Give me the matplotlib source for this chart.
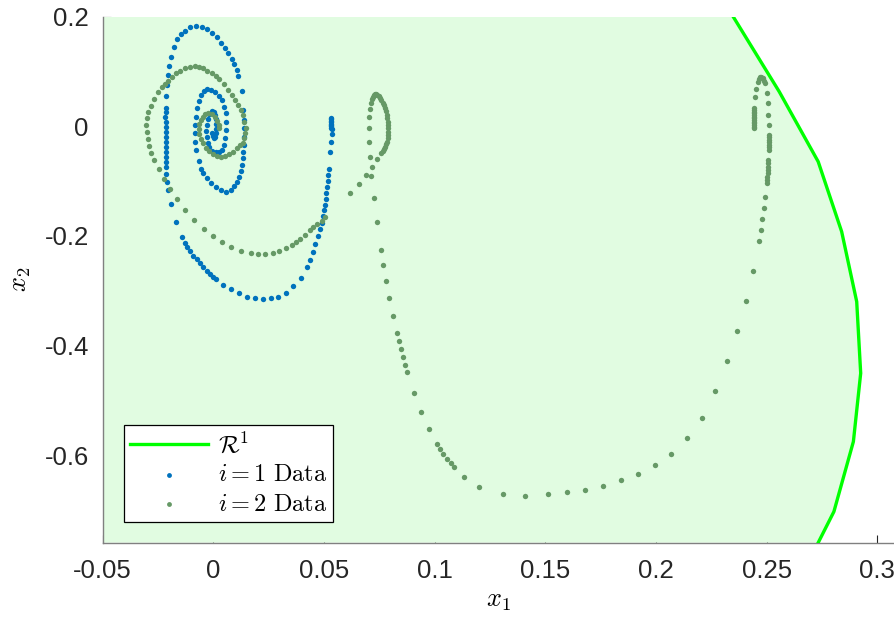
import matplotlib
matplotlib.use("Agg")
import matplotlib.pyplot as plt
import numpy as np

plt.rcParams['font.family'] = ['Liberation Sans', 'DejaVu Sans']
plt.rcParams['mathtext.fontset'] = 'cm'

# ---------------- data ----------------
# boundary of region R^1
r1_x = [0.2349, 0.2557, 0.2733, 0.2839, 0.2907, 0.2925, 0.2892, 0.2804, 0.2733]
r1_y = [0.2000, 0.0631, -0.0646, -0.1923, -0.3201, -0.4507, -0.5755, -0.7033, -0.7600]

# i = 1 data (blue)
blue_x = [0.0530, 0.0531, 0.0531, 0.0532, 0.0532, 0.0532, 0.0532, 0.0533, 0.0534,
          0.0535, 0.0532, 0.0529, 0.0523, 0.0520, 0.0517, 0.0514, 0.0511, 0.0508, 0.0503,
          0.0499, 0.0494, 0.0490, 0.0482, 0.0472, 0.0461, 0.0449, 0.0435, 0.0422, 0.0396,
          0.0361, 0.0328, 0.0294, 0.0259, 0.0226, 0.0188, 0.0151, 0.0116, 0.0080, 0.0045,
          0.0011, -0.0003, -0.0015, -0.0030, -0.0045, -0.0060, -0.0075, -0.0090, -0.0105,
          -0.0117, -0.0128, -0.0143, -0.0169, -0.0191, -0.0205, -0.0211, -0.0213,
          -0.0214, -0.0214, -0.0215, -0.0215, -0.0215, -0.0216, -0.0216, -0.0216, -0.0216,
          -0.0216, -0.0217, -0.0216, -0.0216,
          -0.0214, -0.0211, -0.0206, -0.0199, -0.0191, -0.0178, -0.0163, -0.0148, -0.0128,
          -0.0105, -0.0080, -0.0053, -0.0030, -0.0007, 0.0015, 0.0035, 0.0053, 0.0068,
          0.0083, 0.0095, 0.0105, 0.0113, 0.0128, 0.0136, 0.0139, 0.0140, 0.0139, 0.0139,
          0.0136, 0.0133, 0.0130, 0.0125, 0.0118, 0.0109, 0.0095, 0.0080, 0.0057, 0.0033,
          0.0012, -0.0011, -0.0030, -0.0045, -0.0057, -0.0066,
          -0.0078, -0.0081, -0.0083, -0.0081, -0.0078, -0.0074, -0.0066, -0.0056, -0.0042,
          -0.0027, -0.0011, 0.0008, 0.0026, 0.0041, 0.0050, 0.0056, 0.0057, 0.0056, 0.0053,
          0.0048, 0.0039,
          0.0025, 0.0010, -0.0005, -0.0018, -0.0025, -0.0030, -0.0031, -0.0030, -0.0026,
          -0.0018, -0.0008, 0.0002, 0.0009, 0.0013, 0.0014, 0.0013, 0.0011, 0.0007, 0.0002,
          -0.0003, -0.0005]
blue_y = [0.0150, 0.0125, 0.0100, 0.0075, 0.0050, 0.0025, 0.0000, -0.0025, -0.0050,
          -0.0140, -0.0292, -0.0474, -0.0772, -0.0882, -0.0991, -0.1100, -0.1210, -0.1320, -0.1430,
          -0.1530, -0.1640, -0.1757, -0.1880, -0.1994, -0.2153, -0.2298, -0.2438, -0.2560, -0.2767,
          -0.2924, -0.3034, -0.3107, -0.3143, -0.3155, -0.3137, -0.3107, -0.3052, -0.2973, -0.2900,
          -0.2791, -0.2742, -0.2699, -0.2639, -0.2572, -0.2499, -0.2426, -0.2359, -0.2280,
          -0.2207, -0.2134, -0.2012, -0.1751, -0.1417, -0.1167, -0.1009, -0.0870,
          -0.0736, -0.0644, -0.0553, -0.0462, -0.0371, -0.0280, -0.0188, -0.0097, -0.0006,
          0.0085, 0.0176, 0.0268, 0.0328,
          0.0553, 0.0754, 0.0936, 0.1101, 0.1259, 0.1441, 0.1587, 0.1684, 0.1745,
          0.1806, 0.1836, 0.1818, 0.1769, 0.1709, 0.1623, 0.1526, 0.1435, 0.1332,
          0.1228, 0.1131, 0.1028, 0.0924, 0.0645, 0.0298, 0.0116, -0.0036, -0.0188, -0.0340,
          -0.0462, -0.0584, -0.0705, -0.0809, -0.0918, -0.1009, -0.1088, -0.1161, -0.1191, -0.1161,
          -0.1100, -0.1027, -0.0936, -0.0857, -0.0784, -0.0632,
          -0.0432, -0.0280, -0.0128, 0.0024, 0.0176, 0.0328, 0.0468, 0.0572, 0.0645,
          0.0675, 0.0663, 0.0620, 0.0553, 0.0480, 0.0359, 0.0237, 0.0085, -0.0067, -0.0219,
          -0.0340, -0.0432,
          -0.0470, -0.0475, -0.0445, -0.0385, -0.0300, -0.0200, -0.0090, 0.0020, 0.0130,
          0.0220, 0.0270, 0.0260, 0.0210, 0.0130, 0.0040, -0.0050, -0.0130, -0.0190, -0.0210,
          -0.0180, -0.0120]

# i = 2 data (green)
green_x = [0.2444, 0.2444, 0.2444, 0.2444, 0.2444, 0.2444, 0.2444, 0.2444, 0.2444, 0.2444,
           0.2444, 0.2445, 0.2445,
           0.2447, 0.2450, 0.2459, 0.2464, 0.2470, 0.2476, 0.2482, 0.2487, 0.2492, 0.2500,
           0.2504, 0.2507, 0.2509,
           0.2509, 0.2509, 0.2509, 0.2509, 0.2509, 0.2509, 0.2509,
           0.2507, 0.2507, 0.2506, 0.2505, 0.2504, 0.2503, 0.2502, 0.2500,
           0.2492, 0.2486, 0.2480, 0.2473, 0.2465, 0.2437,
           0.2405, 0.2365, 0.2320, 0.2268, 0.2207, 0.2140, 0.2069, 0.1997, 0.1920, 0.1841, 0.1759,
           0.1680, 0.1600, 0.1510, 0.1410, 0.1310, 0.1202,
           0.1134, 0.1089, 0.1072, 0.1056, 0.1039, 0.1024, 0.1009, 0.0973, 0.0937, 0.0905,
           0.0874, 0.0865, 0.0856, 0.0846, 0.0837, 0.0828, 0.0812, 0.0795, 0.0782, 0.0768,
           0.0756, 0.0738, 0.0725, 0.0714, 0.0716, 0.0708, 0.0705, 0.0704, 0.0705, 0.0708,
           0.0711, 0.0715, 0.0720, 0.0725, 0.0731, 0.0736, 0.0741, 0.0747, 0.0753, 0.0759,
           0.0765, 0.0771, 0.0776, 0.0780, 0.0783, 0.0786, 0.0788, 0.0790, 0.0791, 0.0791,
           0.0791, 0.0789, 0.0786, 0.0782, 0.0777, 0.0771, 0.0765, 0.0756, 0.0740,
           0.0690, 0.0657, 0.0618,
           0.0505, 0.0490, 0.0470, 0.0452, 0.0437, 0.0414, 0.0392, 0.0374, 0.0354, 0.0327,
           0.0298, 0.0268, 0.0235, 0.0200, 0.0169, 0.0125, 0.0081, 0.0039, -0.0001, -0.0041,
           -0.0086, -0.0127, -0.0164, -0.0196, -0.0221, -0.0247, -0.0267, -0.0282, -0.0291,
           -0.0297, -0.0301, -0.0304, -0.0301, -0.0297, -0.0283, -0.0266,
           -0.0248, -0.0232, -0.0218, -0.0203, -0.0188, -0.0169, -0.0151, -0.0128, -0.0105,
           -0.0083, -0.0063, -0.0045, -0.0027, -0.0007, 0.0012, 0.0027, 0.0050, 0.0068,
           0.0084, 0.0098, 0.0113, 0.0125, 0.0136, 0.0140, 0.0146, 0.0145, 0.0139,
           0.0133, 0.0121, 0.0105, 0.0090, 0.0072, 0.0053, 0.0033, 0.0015, -0.0003, -0.0020,
           -0.0035, -0.0048, -0.0057, -0.0063, -0.0065, -0.0063, -0.0057, -0.0048, -0.0036,
           -0.0023, -0.0007, 0.0008, 0.0018, 0.0024, 0.0024]
green_y = [-0.0036, -0.0005, 0.0025, 0.0055, 0.0085, 0.0116, 0.0146, 0.0177, 0.0207, 0.0238,
           0.0268, 0.0298, 0.0328,
           0.0529, 0.0675, 0.0815, 0.0870, 0.0906, 0.0900, 0.0876, 0.0835, 0.0784, 0.0602,
           0.0420, 0.0207, 0.0025,
           -0.0158, -0.0203, -0.0249, -0.0295, -0.0340, -0.0386, -0.0431,
           -0.0614, -0.0675, -0.0735, -0.0796, -0.0857, -0.0918, -0.0978, -0.1040,
           -0.1283, -0.1490, -0.1690, -0.1891, -0.2085, -0.2639,
           -0.3188, -0.3741, -0.4287, -0.4827, -0.5316, -0.5693, -0.5982, -0.6190, -0.6339, -0.6460, -0.6560,
           -0.6630, -0.6680, -0.6720, -0.6740, -0.6710, -0.6585,
           -0.6402, -0.6226, -0.6147, -0.6074, -0.5977, -0.5892, -0.5794, -0.5527, -0.5217, -0.4870,
           -0.4487, -0.4353, -0.4214, -0.4067, -0.3928, -0.3776, -0.3460, -0.3143, -0.2833, -0.2535,
           -0.2250, -0.1751, -0.1301, -0.0912, -0.0748, -0.0566, -0.0280, -0.0037, 0.0176, 0.0322,
           0.0432, 0.0490, 0.0541, 0.0570, 0.0590, 0.0585, 0.0571, 0.0545, 0.0511, 0.0475,
           0.0432, 0.0385, 0.0328, 0.0270, 0.0207, 0.0145, 0.0085, 0.0025, -0.0037, -0.0098,
           -0.0158, -0.0220, -0.0280, -0.0330, -0.0371, -0.0415, -0.0450, -0.0480, -0.0602,
           -0.0888, -0.1046, -0.1222,
           -0.1660, -0.1720, -0.1780, -0.1840, -0.1900, -0.1980, -0.2060, -0.2116, -0.2164, -0.2225,
           -0.2268, -0.2304, -0.2329, -0.2335, -0.2316, -0.2268, -0.2201, -0.2110, -0.2006, -0.1879,
           -0.1708, -0.1520, -0.1325, -0.1137, -0.0961, -0.0784, -0.0620, -0.0480, -0.0352,
           -0.0231, -0.0097, 0.0024, 0.0146, 0.0262, 0.0371, 0.0500,
           0.0632, 0.0711, 0.0772, 0.0833, 0.0906, 0.0967, 0.1015, 0.1058, 0.1088,
           0.1094, 0.1088, 0.1058, 0.1015, 0.0967, 0.0918, 0.0863, 0.0772, 0.0663,
           0.0566, 0.0480, 0.0389, 0.0298, 0.0207, 0.0085, -0.0036, -0.0128, -0.0219,
           -0.0298, -0.0340, -0.0401, -0.0462, -0.0511, -0.0541, -0.0553, -0.0541, -0.0505, -0.0456,
           -0.0389, -0.0310, -0.0231, -0.0140, -0.0049, 0.0037, 0.0116, 0.0176, 0.0219,
           0.0237, 0.0225, 0.0176, 0.0103, 0.0024, -0.0036]

xlim = (-0.05, 0.308)
ylim = (-0.76, 0.2)
x_ticks = [-0.05, 0, 0.05, 0.1, 0.15, 0.2, 0.25, 0.3]
x_ticklabels = ['-0.05', '0', '0.05', '0.1', '0.15', '0.2', '0.25', '0.3']
y_ticks = [-0.6, -0.4, -0.2, 0, 0.2]
y_ticklabels = ['-0.6', '-0.4', '-0.2', '0', '0.2']

BLUE = '#0072BD'
GREEN_PTS = '#669966'
BOUND = '#00FF00'
FILL = '#E1FCE1'

# ---------------- figure ----------------
fig = plt.figure(figsize=(8.95, 6.2), dpi=100)
ax = fig.add_axes([0.1147, 0.1247, 0.8853, 0.8484])

# shaded region (left of boundary)
poly_x = [xlim[0]] + r1_x + [xlim[0]]
poly_y = [r1_y[0]] + r1_y + [r1_y[-1]]
ax.fill(poly_x, poly_y, color=FILL, lw=0, zorder=1)

bline, = ax.plot(r1_x, r1_y, color=BOUND, lw=2.4, zorder=4, label=r'$\mathcal{R}^1$')
s1 = ax.scatter(blue_x, blue_y, s=15, color=BLUE, lw=0, zorder=3, label=r'$i=1\ \mathrm{Data}$')
s2 = ax.scatter(green_x, green_y, s=15, color=GREEN_PTS, lw=0, zorder=3.5, label=r'$i=2\ \mathrm{Data}$')

ax.set_xlim(*xlim)
ax.set_ylim(*ylim)
ax.set_xticks(x_ticks)
ax.set_xticklabels(x_ticklabels)
ax.set_yticks(y_ticks)
ax.set_yticklabels(y_ticklabels)
ax.set_axisbelow(True)
ax.tick_params(direction='in', length=6, width=0.8, color='#262626',
               labelsize=18.5, labelcolor='#262626')
ax.tick_params(axis='x', pad=12)
ax.tick_params(axis='y', pad=10)
for side in ['top', 'right']:
    ax.spines[side].set_visible(False)
for side in ['left', 'bottom']:
    ax.spines[side].set_color('#808080')
    ax.spines[side].set_linewidth(1.0)

ax.set_xlabel(r'$x_1$', fontsize=19, labelpad=4)
ax.set_ylabel(r'$x_2$', fontsize=19, labelpad=8)

leg = ax.legend(handles=[bline, s1, s2], loc='lower left',
                bbox_to_anchor=(0.0273, 0.0399), borderaxespad=0,
                fancybox=False, framealpha=1, edgecolor='black',
                fontsize=17.5, handlelength=3.2, handletextpad=0.4,
                labelspacing=0.3, borderpad=0.25, markerscale=0.9)
leg.get_frame().set_linewidth(0.9)
leg.set_zorder(10)

fig.savefig('out.png', dpi=100)
